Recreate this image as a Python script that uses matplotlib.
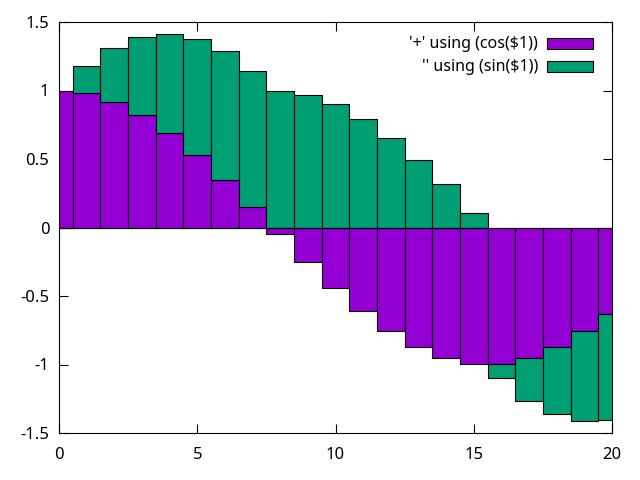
import numpy as np
import matplotlib
matplotlib.use('Agg')
import matplotlib.pyplot as plt
from matplotlib.patches import Rectangle

# box index and the two stacked columns
idx = list(range(21))
cos_vals = [1.000, 0.980, 0.919, 0.821, 0.689, 0.529, 0.347, 0.151, -0.051,
            -0.251, -0.440, -0.612, -0.758, -0.872, -0.949, -0.995, -0.995,
            -0.949, -0.872, -0.758, -0.628]
sin_vals = [0.000, 0.201, 0.394, 0.571, 0.725, 0.849, 0.938, 0.989, 0.999,
            0.968, 0.898, 0.791, 0.653, 0.491, 0.315, 0.105, -0.101,
            -0.315, -0.491, -0.653, -0.776]
labels = ["'+' using (cos($1))", "'' using (sin($1))"]
colors = ['#9400d3', '#009e73']

plt.rcParams['font.family'] = ['Noto Sans', 'DejaVu Sans']
plt.rcParams['font.size'] = 12

fig = plt.figure(figsize=(6.4, 4.8), dpi=100)
ax = fig.add_axes([59/640, 1-433/480, 553/640, 411/480])

x = np.array(idx)
c = np.array(cos_vals)
s = np.array(sin_vals)
# rowstacked: positives stack upward, negatives downward
bottom_s = np.where(np.sign(s) == np.sign(c), c, 0.0)

ax.bar(x, c, width=1.0, color=colors[0], edgecolor='black', linewidth=0.8, zorder=2)
ax.bar(x, s, width=1.0, bottom=bottom_s, color=colors[1], edgecolor='black',
       linewidth=0.8, zorder=2)
ax.axhline(0, color='black', linewidth=0.8, zorder=3)

ax.set_xlim(0, 20)
ax.set_ylim(-1.5, 1.5)
ax.set_xticks([0, 5, 10, 15, 20])
ax.set_yticks([-1.5, -1, -0.5, 0, 0.5, 1, 1.5])
ax.set_yticklabels(['-1.5', '-1', '-0.5', '0', '0.5', '1', '1.5'])
ax.tick_params(direction='in', top=True, right=True, length=6.5, width=0.8)
ax.tick_params(axis='y', pad=7)
ax.tick_params(axis='x', pad=10)
for sp in ax.spines.values():
    sp.set_linewidth(0.8)
    sp.set_zorder(4)

# gnuplot style key: right-aligned text, swatch on the right
rows = [(0.934, 0.961), (0.878, 0.905)]
for lab, col, (y0, y1) in zip(labels, colors, rows):
    ax.add_patch(Rectangle((0.8825, y0), 0.0831, y1 - y0, transform=ax.transAxes,
                           facecolor=col, edgecolor='black', linewidth=0.8, zorder=5))
    ax.text(0.866, (y0 + y1) / 2, lab, transform=ax.transAxes, ha='right',
            va='center', fontsize=11.5, zorder=5)

fig.savefig('out.png', dpi=100)
